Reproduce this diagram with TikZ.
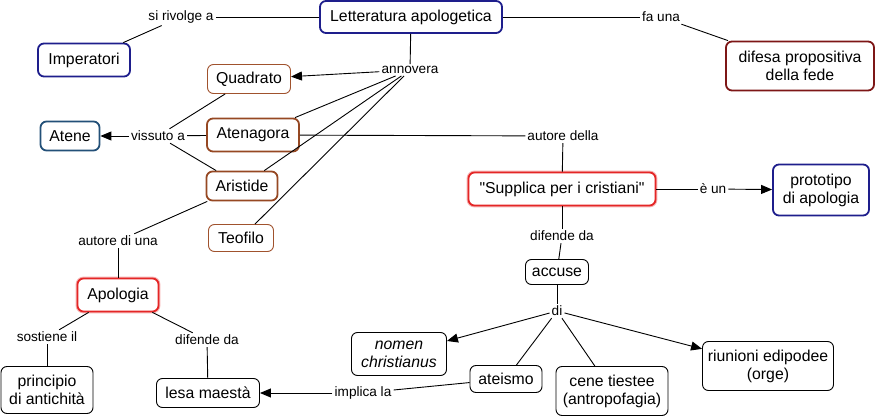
\documentclass[tikz,border=0pt]{standalone}
\usepackage{fontspec}
\setmainfont{Liberation Sans}[Ligatures=TeXOff]
\usetikzlibrary{arrows.meta}
\definecolor{navy}{RGB}{30,30,140}
\definecolor{steel}{RGB}{35,80,120}
\definecolor{brownc}{RGB}{160,82,45}
\definecolor{brownd}{RGB}{150,72,35}
\definecolor{redc}{RGB}{228,38,38}
\definecolor{darkred}{RGB}{125,22,22}
\tikzset{
  concept/.style={draw, rounded corners=6pt, inner sep=0pt, align=center,
    font=\fontsize{15.8}{18}\selectfont, fill=white},
  thick concept/.style={concept, line width=1.8pt},
  thin concept/.style={concept, line width=0.9pt},
  glow/.style={preaction={draw=redc!35, line width=3.8pt}},
  lbl/.style={inner sep=2pt, font=\fontsize{13.6}{15}\selectfont, fill=white},
  conn/.style={line width=0.9pt},
  arr/.style={conn, -{Triangle[length=11pt,width=9pt]}},
}
\begin{document}
\begin{tikzpicture}[x=1pt,y=-1pt]
\useasboundingbox (0,0) rectangle (876,419);
% concepts
\node[thick concept, draw=navy, minimum width=182pt, minimum height=32pt] (lett) at (411,17) {Letteratura apologetica};
\node[thick concept, draw=navy, minimum width=92pt, minimum height=33pt] (imp) at (84,60) {Imperatori};
\node[thick concept, draw=darkred, minimum width=148pt, minimum height=49pt] (dif) at (800,66) {difesa propositiva\\della fede};
\node[thin concept, draw=brownc, minimum width=83pt, minimum height=29pt] (quad) at (249,79) {Quadrato};
\node[thick concept, draw=brownd, minimum width=92pt, minimum height=33pt] (aten) at (253,135) {Atenagora};
\node[thick concept, draw=steel, minimum width=59pt, minimum height=29pt] (atene) at (70,136) {Atene};
\node[thick concept, draw=brownd, minimum width=71pt, minimum height=29pt] (arist) at (242,186) {Aristide};
\node[thin concept, draw=brownc, minimum width=65pt, minimum height=27pt] (teof) at (241,238) {Teofilo};
\node[thick concept, draw=redc, glow, minimum width=81pt, minimum height=33pt] (apol) at (118,295) {Apologia};
\node[thin concept, minimum width=92pt, minimum height=47pt] (princ) at (47,390) {principio\\di antichità};
\node[thin concept, minimum width=103pt, minimum height=29pt] (lesa) at (208,393) {lesa maestà};
\node[thick concept, draw=redc, glow, minimum width=187pt, minimum height=33pt] (supp) at (562,189) {"Supplica per i cristiani"};
\node[thick concept, draw=navy, minimum width=96pt, minimum height=51pt] (proto) at (821,190) {prototipo\\di apologia};
\node[thin concept, minimum width=63pt, minimum height=25pt] (acc) at (557,272) {accuse};
\node[thin concept, minimum width=95pt, minimum height=43pt] (nomen) at (399,354) {\itshape nomen\\\itshape christianus};
\node[thin concept, minimum width=72pt, minimum height=27pt] (ate) at (506,379) {ateismo};
\node[thin concept, minimum width=112pt, minimum height=49pt] (cene) at (612,391) {cene tiestee\\(antropofagia)};
\node[thin concept, minimum width=131pt, minimum height=49pt] (riun) at (768,366) {riunioni edipodee\\(orge)};
% labels
\node[lbl] (lsi) at (181,17) {si rivolge a};
\node[lbl] (lfa) at (661,17) {fa una};
\node[lbl] (lann) at (410,70) {annovera};
\node[lbl] (lvis) at (158,136) {vissuto a};
\node[lbl] (laut1) at (118,241) {autore di una};
\node[lbl] (lsost) at (47,337) {sostiene il};
\node[lbl] (ldif1) at (207,340) {difende da};
\node[lbl] (limp) at (363,393) {implica la};
\node[lbl] (laut2) at (563,136) {autore della};
\node[lbl] (leun) at (713,189) {è un};
\node[lbl] (ldif2) at (562,236) {difende da};
\node[lbl] (ldi) at (557,311) {di};
% connectors
\draw[conn] (lett) -- (lsi);
\draw[conn] (lsi) -- (imp);
\draw[conn] (lett) -- (lfa);
\draw[conn] (lfa) -- (dif);
\draw[conn] (lett) -- (lann);
\draw[arr] (lann) -- (quad);
\draw[conn] (lann) -- (aten);
\draw[conn] (lann) -- (arist);
\draw[conn] (lann) -- (teof);
\draw[conn] (aten) -- (lvis);
\draw[arr] (lvis) -- (atene);
\draw[conn] (quad) -- (lvis);
\draw[conn] (arist) -- (lvis);
\draw[conn] (arist) -- (laut1);
\draw[conn] (laut1) -- (apol);
\draw[conn] (apol) -- (lsost);
\draw[conn] (lsost) -- (princ);
\draw[conn] (apol) -- (ldif1);
\draw[conn] (ldif1) -- (lesa);
\draw[conn] (aten) -- (laut2);
\draw[conn] (laut2) -- (supp);
\draw[conn] (supp) -- (leun);
\draw[arr] (leun) -- (proto);
\draw[conn] (supp) -- (ldif2);
\draw[conn] (ldif2) -- (acc);
\draw[conn] (acc) -- (ldi);
\draw[arr] (ldi) -- (nomen);
\draw[conn] (ldi) -- (ate);
\draw[conn] (ldi) -- (cene);
\draw[arr] (ldi) -- (riun);
\draw[conn] (ate) -- (limp);
\draw[arr] (limp) -- (lesa);
\end{tikzpicture}
\end{document}
